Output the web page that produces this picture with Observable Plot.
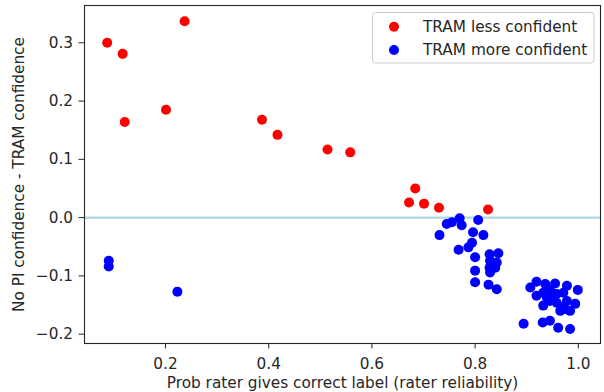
<!DOCTYPE html>
<html><head><meta charset="utf-8">
<script src="https://cdn.jsdelivr.net/npm/d3@7"></script>
<script src="https://cdn.jsdelivr.net/npm/@observablehq/plot@0.6"></script>
<style>
body{margin:0;background:#fff;font-family:"DejaVu Sans",sans-serif}
#chart{width:604px;height:392px}
</style>
</head><body><div id="chart"></div>
<script>
const seriesNames = ["TRAM less confident", "TRAM more confident"];
const seriesColors = ["red", "blue"];
const lessX = [0.087, 0.117, 0.121, 0.201, 0.237, 0.387, 0.417, 0.514, 0.558, 0.684, 0.672, 0.701, 0.730, 0.825];
const lessY = [0.300, 0.281, 0.164, 0.185, 0.337, 0.168, 0.142, 0.117, 0.112, 0.050, 0.026, 0.024, 0.017, 0.014];
const moreX = [0.090, 0.090, 0.223,
  0.745, 0.755, 0.770, 0.774, 0.806, 0.731, 0.796, 0.816, 0.794, 0.787, 0.768, 0.800, 0.828, 0.845, 0.829, 0.842, 0.828, 0.839, 0.800, 0.829, 0.800, 0.826, 0.842,
  0.894, 0.931, 0.945, 0.961, 0.984, 0.907, 0.919, 0.936, 0.955, 0.978, 0.999, 0.919, 0.932, 0.945, 0.958, 0.971, 0.932, 0.945, 0.958, 0.968, 0.984, 0.994, 0.978, 0.952, 0.939, 0.965, 0.974];
const moreY = [-0.074, -0.084, -0.127,
  -0.011, -0.008, -0.001, -0.013, -0.004, -0.030, -0.025, -0.030, -0.043, -0.051, -0.055, -0.068, -0.063, -0.061, -0.074, -0.077, -0.086, -0.086, -0.091, -0.094, -0.111, -0.115, -0.123,
  -0.182, -0.180, -0.177, -0.189, -0.191, -0.120, -0.110, -0.114, -0.113, -0.117, -0.124, -0.134, -0.129, -0.124, -0.131, -0.129, -0.151, -0.143, -0.146, -0.154, -0.160, -0.148, -0.143, -0.137, -0.137, -0.160, -0.157];
const xTicks = [0.2, 0.4, 0.6, 0.8, 1.0];
const yTicks = [-0.2, -0.1, 0.0, 0.1, 0.2, 0.3];
const xLabel = "Prob rater gives correct label (rater reliability)";
const yLabel = "No PI confidence - TRAM confidence";

const data = [
  ...lessX.map((x, i) => ({x, y: lessY[i], s: seriesNames[0]})),
  ...moreX.map((x, i) => ({x, y: moreY[i], s: seriesNames[1]}))
];
const fmt = d3.format(".1f");
const ink = "#262626";
const fs = 15.3;

const plot = Plot.plot({
  width: 604, height: 392,
  marginLeft: 84, marginRight: 4, marginTop: 5, marginBottom: 49,
  style: {fontFamily: "DejaVu Sans", fontSize: fs + "px", color: ink, background: "white"},
  x: {domain: [0.043, 1.043]},
  y: {domain: [-0.216, 0.364]},
  color: {domain: seriesNames, range: seriesColors},
  marks: [
    Plot.ruleY([0], {stroke: "#add8e6", strokeWidth: 2.3}),
    Plot.dot(data, {x: "x", y: "y", fill: "s", r: 5}),
    Plot.frame({stroke: ink, strokeWidth: 1.1}),
    Plot.axisX({ticks: xTicks, tickFormat: fmt, tickSize: 5.5, tickPadding: 9, label: null, fontSize: fs}),
    Plot.axisY({ticks: yTicks, tickFormat: fmt, tickSize: 5.5, tickPadding: 6, label: null, fontSize: fs}),
    Plot.text([xLabel], {text: d => d, frameAnchor: "bottom", textAnchor: "middle", dy: 40, fontSize: fs, fill: ink, lineAnchor: "middle"}),
    Plot.text([yLabel], {text: d => d, frameAnchor: "left", textAnchor: "middle", dx: -65.5, rotate: -90, fontSize: fs, fill: ink, lineAnchor: "middle"})
  ]
});
document.getElementById("chart").appendChild(plot);

// legend inside the axes (upper right), drawn into the same SVG
const svg = d3.select(plot);
const lg = svg.append("g").attr("font-family", "DejaVu Sans").attr("font-size", fs).attr("text-anchor", "start");
lg.append("rect")
  .attr("x", 372.5).attr("y", 12.5).attr("width", 221.5).attr("height", 50.5)
  .attr("rx", 3).attr("fill", "white").attr("fill-opacity", 0.8)
  .attr("stroke", "#cccccc").attr("stroke-width", 1);
seriesNames.forEach((name, i) => {
  const cy = 26.7 + i * 23.3;
  lg.append("circle").attr("cx", 394).attr("cy", cy).attr("r", 5).attr("fill", seriesColors[i]);
  lg.append("text").attr("x", 423).attr("y", cy).attr("dy", "0.35em")
    .attr("text-anchor", "start").attr("fill", ink).text(name);
});
</script>
</body></html>
